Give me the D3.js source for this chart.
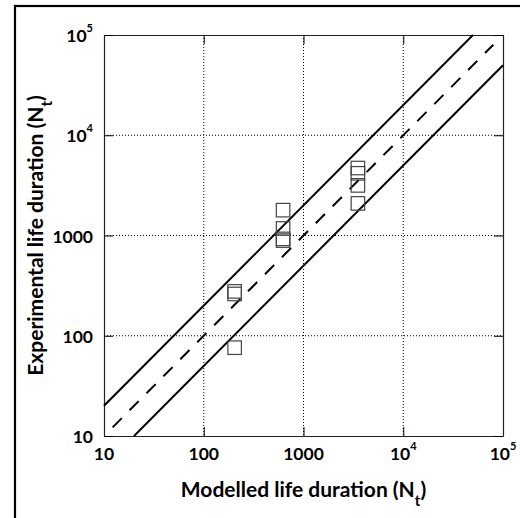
<!DOCTYPE html>
<html>
<head>
<meta charset="utf-8">
<script src="https://cdn.jsdelivr.net/npm/d3@7"></script>
<style>
  body { margin: 0; background: #fff; }
  svg { display: block; }
  text { font-family: Lato, "Open Sans", sans-serif; font-weight: bold; fill: #000; }
  .grid line { stroke: #000; stroke-width: 1; stroke-dasharray: 1,2; }
</style>
</head>
<body>
<div id="chart"></div>
<script>

/* tick values and labels (base, superscript) */
var tickValues = [10, 100, 1000, 1e4, 1e5];
var tickLabels = [["10", ""], ["100", ""], ["1000", ""], ["10", "4"], ["10", "5"]];

/* measured points: modelled life vs experimental life */
var modelled = [204, 204, 204, 624, 624, 624, 624, 3510, 3510, 3510, 3510];
var experimental = [277, 261, 76, 1790, 1175, 925, 890, 4710, 4170, 3160, 2090];

/* scatter band lines: factor 2 above, 1:1, factor 2 below */
var upperLine = [[10, 20], [50000, 100000]];
var middleLine = [[12.2, 12.2], [80000, 80000]];
var lowerLine = [[20, 10], [100000, 50000]];

var W = 520, H = 518;
var margin = {top: 35, right: 17, bottom: 82, left: 104},
    width = W - margin.left - margin.right,
    height = H - margin.top - margin.bottom;

var svg = d3.select("#chart").append("svg")
    .attr("width", W)
    .attr("height", H);

/* outer figure frame, runs off the right and bottom edges */
svg.append("rect")
    .attr("x", 15)
    .attr("y", 6)
    .attr("width", 540)
    .attr("height", 540)
    .attr("fill", "none")
    .attr("stroke", "#000")
    .attr("stroke-width", 2.2);

var x = d3.scaleLog().domain([10, 1e5]).range([0, width]),
    y = d3.scaleLog().domain([10, 1e5]).range([height, 0]);

var g = svg.append("g")
    .attr("transform", "translate(" + margin.left + "," + margin.top + ")");

/* dotted grid */
var grid = g.append("g").attr("class", "grid");
grid.selectAll(".gx")
    .data(tickValues.slice(1, -1))
  .enter().append("line")
    .attr("x1", function(d) { return x(d); })
    .attr("x2", function(d) { return x(d); })
    .attr("y1", 0)
    .attr("y2", height);
grid.selectAll(".gy")
    .data(tickValues.slice(1, -1))
  .enter().append("line")
    .attr("y1", function(d) { return y(d); })
    .attr("y2", function(d) { return y(d); })
    .attr("x1", 0)
    .attr("x2", width);

/* axes: no labels from d3, inward ticks on all four sides */
var tickLen = 9;
g.append("g")
    .attr("transform", "translate(0," + height + ")")
    .call(d3.axisBottom(x).tickValues(tickValues).tickSizeInner(-tickLen).tickSizeOuter(0).tickFormat(""));
g.append("g")
    .call(d3.axisTop(x).tickValues(tickValues).tickSizeInner(-tickLen).tickSizeOuter(0).tickFormat(""));
g.append("g")
    .call(d3.axisLeft(y).tickValues(tickValues).tickSizeInner(-tickLen).tickSizeOuter(0).tickFormat(""));
g.append("g")
    .attr("transform", "translate(" + width + ",0)")
    .call(d3.axisRight(y).tickValues(tickValues).tickSizeInner(-tickLen).tickSizeOuter(0).tickFormat(""));
g.selectAll(".domain").attr("stroke", "#222").attr("stroke-width", 1.2);
g.selectAll(".tick line").attr("stroke", "#000").attr("stroke-width", 1);

/* tick labels with superscripts */
function addLabel(sel, lab) {
  sel.append("tspan").text(lab[0]);
  if (lab[1]) {
    sel.append("tspan")
        .attr("dy", -10)
        .attr("font-size", 11)
        .text(lab[1]);
  }
}

tickValues.forEach(function(v, i) {
  var t = g.append("text")
      .attr("x", x(v))
      .attr("y", height + 24)
      .attr("text-anchor", "middle")
      .attr("font-size", 17.5);
  addLabel(t, tickLabels[i]);

  var s = g.append("text")
      .attr("x", -11)
      .attr("y", y(v) + 7)
      .attr("text-anchor", "end")
      .attr("font-size", 17.5);
  addLabel(s, tickLabels[i]);
});

/* band lines */
var line = d3.line()
    .x(function(d) { return x(d[0]); })
    .y(function(d) { return y(d[1]); });

g.append("path")
    .datum(upperLine)
    .attr("d", line)
    .attr("fill", "none")
    .attr("stroke", "#000")
    .attr("stroke-width", 2);
g.append("path")
    .datum(lowerLine)
    .attr("d", line)
    .attr("fill", "none")
    .attr("stroke", "#000")
    .attr("stroke-width", 2);
g.append("path")
    .datum(middleLine)
    .attr("d", line)
    .attr("fill", "none")
    .attr("stroke", "#000")
    .attr("stroke-width", 2)
    .attr("stroke-dasharray", "13,11");

/* square markers */
var sq = 13.5;
g.selectAll(".pt")
    .data(modelled)
  .enter().append("rect")
    .attr("class", "pt")
    .attr("x", function(d) { return x(d) - sq / 2; })
    .attr("y", function(d, i) { return y(experimental[i]) - sq / 2; })
    .attr("width", sq)
    .attr("height", sq)
    .attr("fill", "none")
    .attr("stroke", "#444")
    .attr("stroke-width", 1.2);

/* axis titles */
var xt = svg.append("text")
    .attr("x", margin.left + width / 2)
    .attr("y", 497)
    .attr("text-anchor", "middle")
    .attr("font-size", 21);
xt.append("tspan").text("Modelled life duration (N");
xt.append("tspan").attr("dy", 9).attr("font-size", 15).text("t");
xt.append("tspan").attr("dy", -9).text(")");

var yt = svg.append("text")
    .attr("transform", "translate(43," + (margin.top + height / 2) + ") rotate(-90)")
    .attr("text-anchor", "middle")
    .attr("font-size", 21);
yt.append("tspan").text("Experimental life duration (N");
yt.append("tspan").attr("dy", 9).attr("font-size", 15).text("t");
yt.append("tspan").attr("dy", -9).text(")");

</script>
</body>
</html>
